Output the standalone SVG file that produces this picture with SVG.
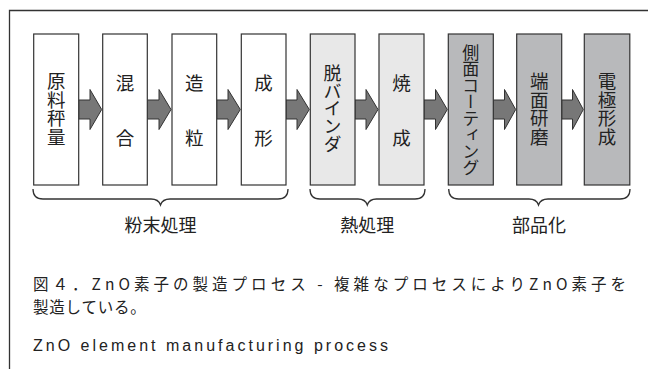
<svg xmlns="http://www.w3.org/2000/svg" width="648" height="369" viewBox="0 0 648 369">
<style>
.frame{fill:none;stroke:#333;stroke-width:1.3}
.box{stroke:#333;stroke-width:1.2}
.w{fill:#ffffff}.l{fill:#e8e8e8}.d{fill:#b8b9bb}
.arr{fill:#777;stroke:#333;stroke-width:1}
.br{fill:none;stroke:#333;stroke-width:1.3}
.t{font-family:"Noto Sans CJK JP","Noto Sans",sans-serif;fill:#222}
.v{font-size:18.5px;writing-mode:vertical-rl}
.lab{font-size:18px;text-anchor:middle}
.cap{font-size:15.5px}
</style>
<rect width="648" height="369" fill="#fff"/>
<path class="frame" d="M9.5,369 V10.5 H648"/>

<g id="connectors">
<polygon class="arr" points="78.7,100 90,100 90,89.5 101.7,109.5 90,129.5 90,119 78.7,119"/>
<polygon class="arr" points="147.3,100 159,100 159,89.5 171,109.5 159,129.5 159,119 147.3,119"/>
<polygon class="arr" points="216.7,100 228,100 228,89.5 240.3,109.5 228,129.5 228,119 216.7,119"/>
<polygon class="arr" points="286,100 297,100 297,89.5 309.3,109.5 297,129.5 297,119 286,119"/>
<polygon class="arr" points="355,100 366,100 366,89.5 378,109.5 366,129.5 366,119 355,119"/>
<polygon class="arr" points="424,100 435.5,100 435.5,89.5 447.3,109.5 435.5,129.5 435.5,119 424,119"/>
<polygon class="arr" points="493.3,100 504.5,100 504.5,89.5 515.7,109.5 504.5,129.5 504.5,119 493.3,119"/>
<polygon class="arr" points="561.7,100 572.5,100 572.5,89.5 583.3,109.5 572.5,129.5 572.5,119 561.7,119"/>
</g>

<g id="n1"><rect class="box w" x="33.7" y="34" width="45" height="151"/><text class="t v" x="56.2" y="72">原料秤量</text></g>
<g id="n2"><rect class="box w" x="102.7" y="34" width="44.6" height="151"/><text class="t v" x="125" y="74" style="letter-spacing:36.5px">混合</text></g>
<g id="n3"><rect class="box w" x="172" y="34" width="44.7" height="151"/><text class="t v" x="194.3" y="74" style="letter-spacing:36.5px">造粒</text></g>
<g id="n4"><rect class="box w" x="241.3" y="34" width="44.7" height="151"/><text class="t v" x="263.6" y="74" style="letter-spacing:36.5px">成形</text></g>
<g id="n5"><rect class="box l" x="310.3" y="34" width="44.7" height="151"/><text class="t v" x="332.6" y="64" style="font-size:18px;letter-spacing:-0.2px">脱バインダ</text></g>
<g id="n6"><rect class="box l" x="379" y="34" width="45" height="151"/><text class="t v" x="401.5" y="74" style="letter-spacing:36.5px">焼成</text></g>
<g id="n7"><rect class="box d" x="448.3" y="34" width="45" height="151"/><text class="t v" x="470.8" y="44" style="font-size:17px;letter-spacing:-0.5px">側面コーティング</text></g>
<g id="n8"><rect class="box d" x="516.7" y="34" width="45" height="151"/><text class="t v" x="539.2" y="72">端面研磨</text></g>
<g id="n9"><rect class="box d" x="584.3" y="34" width="45.5" height="151"/><text class="t v" x="607" y="72">電極形成</text></g>

<g id="braces">
<path class="br" d="M33,189 Q33,199 43,199 H151 Q158.5,199 160.5,205 Q162.5,199 170,199 H278 Q288,199 288,189"/>
<path class="br" d="M310,189 Q310,199 320,199 H358 Q365.3,199 367.3,205 Q369.3,199 376.5,199 H415 Q425,199 425,189"/>
<path class="br" d="M448.7,189 Q448.7,199 458.7,199 H529 Q536.5,199 538.5,205 Q540.5,199 548,199 H620 Q630,199 630,189"/>
</g>
<text class="t lab" x="160.5" y="232">粉末処理</text>
<text class="t lab" x="367.3" y="232">熱処理</text>
<text class="t lab" x="539" y="232">部品化</text>

<text class="t cap" x="33" y="289.5" textLength="593" lengthAdjust="spacing">図４．ZnO素子の製造プロセス - 複雑なプロセスによりZnO素子を</text>
<text class="t cap" x="33" y="312.5" style="letter-spacing:0.8px">製造している。</text>
<text class="t cap" x="33" y="351" style="font-size:16px;font-family:'Liberation Sans','Noto Sans',sans-serif" textLength="355" lengthAdjust="spacing">ZnO element manufacturing process</text>
</svg>
